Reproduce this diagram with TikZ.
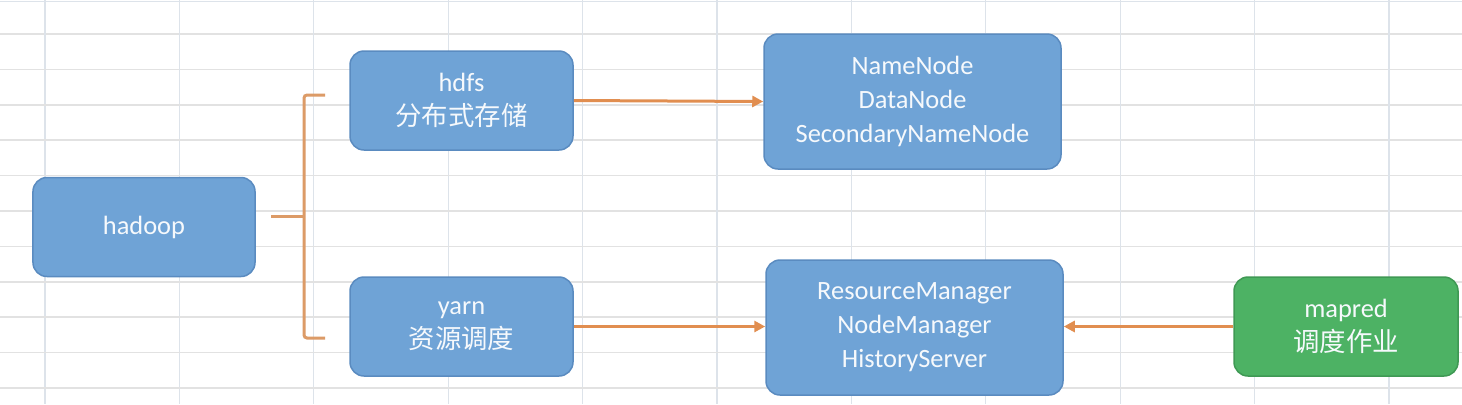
\documentclass[tikz,border=0pt]{standalone}
\usepackage{fontspec}
\setmainfont{Carlito}
\newfontfamily\cjk{Noto Sans CJK SC}
\usetikzlibrary{arrows.meta}
\definecolor{boxblue}{HTML}{6FA3D6}
\definecolor{boxblueline}{HTML}{5A8BC0}
\definecolor{boxgreen}{HTML}{4DB264}
\definecolor{boxgreenline}{HTML}{3F9954}
\definecolor{conn}{HTML}{E18E50}
\definecolor{brk}{HTML}{DC9B67}
\definecolor{gridh}{HTML}{E2E2E2}
\definecolor{gridv}{HTML}{DDE3EA}
\definecolor{txt}{HTML}{F6F9FC}
\tikzset{
  box/.style={draw=boxblueline, fill=boxblue, line width=1.5bp, rounded corners=14bp,
    inner sep=0pt, text=txt, align=center,
    font=\fontsize{26.5}{34}\selectfont},
  greenbox/.style={box, draw=boxgreenline, fill=boxgreen},
  arrowline/.style={draw=conn, line width=3bp, -{Triangle[length=11bp,width=11bp]}},
  bracketline/.style={draw=brk, line width=3bp, rounded corners=3bp},
}
\begin{document}
\begin{tikzpicture}[x=1bp,y=-1bp]
\useasboundingbox (0,0) rectangle (1462,404);
\fill[white] (0,0) rectangle (1462,404);
% spreadsheet grid
\foreach \k in {0,...,10} {
  \draw[gridh, line width=1.6bp] (0,{34+35.4*\k}) -- (1462,{34+35.4*\k});
  \draw[gridv, line width=1.3bp] ({45+134.4*\k},0) -- ({45+134.4*\k},404);
}
\draw[gridv, line width=1.3bp] (0,1.5) -- (1462,1.5);

% nodes
\node[box, minimum width=222bp, minimum height=99bp] (hadoop) at (144,227) {\raisebox{-2bp}{hadoop}};
\node[box, minimum width=223bp, minimum height=99bp] (hdfs) at (461.5,100.5) {hdfs\\{\cjk 分布式存储}};
\node[box, minimum width=223bp, minimum height=99bp] (yarn) at (461.5,326.5) {yarn\\{\cjk 资源调度}};
\node[box, minimum width=297bp, minimum height=135bp] (nn) at (912.5,101.5) {NameNode\\DataNode\\SecondaryNameNode};
\node[box, minimum width=297bp, minimum height=135bp] (rm) at (914.5,327.5) {ResourceManager\\NodeManager\\HistoryServer};
\node[greenbox, minimum width=224bp, minimum height=99bp] (mapred) at (1346,326.5) {mapred\\{\cjk 调度作业}};

% bracket
\coordinate (bstub) at (271,216);
\coordinate (bmid) at (304,216);
\coordinate (btop) at (325,95);
\coordinate (bbot) at (325,338);
\draw[bracketline] (bstub) -- (bmid);
\draw[bracketline] (btop) -- (btop -| bmid) -- (bbot -| bmid) -- (bbot);

% arrows
\draw[arrowline] (hdfs.east) -- (nn.west);
\draw[arrowline] (yarn.east) -- (rm.west |- yarn.east);
\draw[arrowline] (mapred.west) -- (rm.east |- mapred.west);
\end{tikzpicture}
\end{document}
